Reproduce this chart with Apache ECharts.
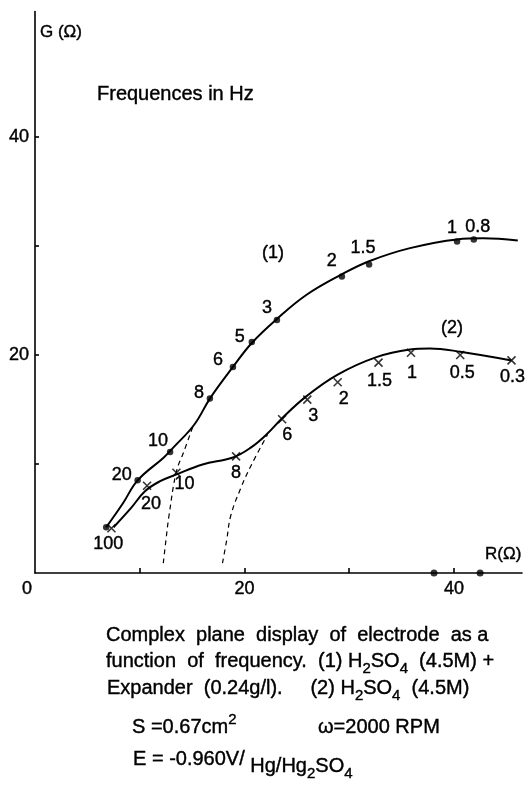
<!DOCTYPE html>
<html><head><meta charset="utf-8">
<script src="https://cdn.jsdelivr.net/npm/echarts@6/dist/echarts.min.js"></script>
<style>html,body{margin:0;padding:0;background:#fff}#c{width:528px;height:785px}</style>
</head><body><div id="c"></div>
<script>
// ---------- data ----------
const xTickValues = [10, 20, 30, 40];
const xLabelValues = [0, 20, 40];
const yTickValues = [10, 20, 30, 40];
const yLabelValues = [20, 40];

// curve (1): measured points [R, G] and their frequencies (Hz)
const freq1 = ['100', '20', '10', '8', '6', '5', '3', '2', '1.5', '1', '0.8'];
const pts1 = [[6.8, 4.2], [9.8, 8.5], [12.9, 11.1], [16.7, 16.0], [18.9, 18.9], [20.7, 21.2],
              [23.1, 23.2], [29.3, 27.2], [31.9, 28.3], [40.3, 30.4], [41.9, 30.6]];
// curve (2): measured points
const freq2 = ['100', '20', '10', '8', '6', '3', '2', '1.5', '1', '0.5', '0.3'];
const pts2 = [[7.3, 4.1], [10.7, 8.0], [13.5, 9.2], [19.2, 10.7], [23.6, 14.1], [26.0, 15.9],
              [28.9, 17.5], [32.8, 19.3], [35.9, 20.2], [40.6, 20.0], [45.5, 19.5]];
// traced fitted curves
const curve1 = [[6.8, 4.2], [8.4, 6.4], [9.8, 8.5], [12.3, 10.6], [13.2, 11.5], [15.2, 13.6],
                [16.7, 16.0], [18.9, 18.9], [20.7, 21.1], [23.1, 23.3], [25.9, 25.5],
                [29.3, 27.4], [31.9, 28.6], [35.8, 29.8], [40.3, 30.6], [42.8, 30.7], [46.1, 30.5]];
const curve2 = [[7.5, 4.2], [9.2, 6.0], [10.5, 7.5], [11.9, 8.4], [13.4, 9.0], [16.0, 9.95],
                [18.9, 10.6], [20.6, 11.5], [22.1, 12.7], [23.6, 14.2], [25.9, 16.2], [28.9, 18.2],
                [32.6, 19.8], [35.8, 20.5], [37.7, 20.6], [40.6, 20.3], [45.5, 19.5]];
// dashed extrapolations to the real axis
const dashed1 = [[12.25, 0.9], [12.5, 3.0], [12.8, 5.3], [13.5, 9.3], [14.2, 11.1], [15.1, 13.5]];
const dashed2 = [[17.9, 0.9], [18.3, 3.0], [18.7, 5.3], [19.7, 7.9], [20.6, 9.8], [22.2, 12.7]];
// intercepts on the R axis
const axisDots = [[38.1, 0], [42.5, 0]];

// ---------- style / layout ----------
const FF = '"Liberation Sans", Arial, sans-serif';
const INK = '#000000';
// label centre offsets (px) relative to each marker; null = no label
const labelOffsets1 = [[2, 17], [-16, -5], [-12, -11], [-11, -6], [-15, -7], [-12, -5], [-10, -12],
                       [-10, -15], [-6, -16], [-5, -14], [4, -12]];
const labelOffsets2 = [null, [4, 18], [8, 11], [0, 17], [5, 16], [6, 16], [6, 17], [1, 18], [1, 20],
                       [2, 18], [1, 17]];

const LBL = { color: INK, opacity: 1, fontSize: 18, fontFamily: FF, textBorderColor: INK, textBorderWidth: 0.4 };
function markData(pts, names, offs) {
  return pts.map((p, i) => ({
    value: p,
    label: offs[i] ? Object.assign({ show: true, formatter: names[i], offset: offs[i], position: 'inside' }, LBL)
                   : { show: false }
  }));
}

const cv = document.createElement('canvas').getContext('2d');
function measure(t, size) { cv.font = size + 'px ' + FF; return cv.measureText(t).width; }
const KINDS = {
  n: { size: 20, dy: 0 }, sub: { size: 15, dy: 8 }, sup: { size: 15, dy: -7 },
  low: { size: 20, dy: 7 }, lowsub: { size: 15, dy: 15 }
};
function txt(x, y, t, size, align) {
  return { type: 'text', x, y, silent: true,
    style: { text: t, font: size + 'px ' + FF, fill: INK, align: align || 'left', verticalAlign: 'middle',
             textAlign: align || 'left', textVerticalAlign: 'middle', stroke: INK, lineWidth: 0.4 } };
}
// segs: [text, kind]
function captionLine(x, y, segs) {
  const out = [];
  let cx = x;
  segs.forEach(([t, k]) => {
    const s = KINDS[k];
    out.push(txt(cx, y + s.dy, t, s.size));
    cx += measure(t, s.size);
  });
  return out;
}

const graphics = [].concat(
  [txt(97, 94, 'Frequences in Hz', 20), txt(273, 253, '(1)', 18, 'center'), txt(452, 328, '(2)', 18, 'center')],
  captionLine(106, 635, [['Complex  plane  display  of  electrode  as a', 'n']]),
  captionLine(106, 661, [['function  of  frequency.  (1) H', 'n'], ['2', 'sub'], ['SO', 'n'], ['4', 'sub'], ['  (4.5M) +', 'n']]),
  captionLine(107, 688, [['Expander  (0.24g/l).     (2) H', 'n'], ['2', 'sub'], ['SO', 'n'], ['4', 'sub'], ['  (4.5M)', 'n']]),
  captionLine(132, 727, [['S =0.67cm', 'n'], ['2', 'sup']]),
  captionLine(318, 727, [['ω=2000 RPM', 'n']]),
  captionLine(133, 759, [['E = -0.960V/ ', 'n'], ['Hg/Hg', 'low'], ['2', 'lowsub'], ['SO', 'low'], ['4', 'lowsub']])
);

const axisCommon = {
  type: 'value', min: 0, interval: 10,
  axisLine: { show: true, onZero: false, lineStyle: { color: INK, width: 1.6 } },
  splitLine: { show: false }
};

const chart = echarts.init(document.getElementById('c'), null, { renderer: 'canvas' });
chart.setOption({
  animation: false,
  backgroundColor: '#fff',
  textStyle: { color: INK, fontFamily: FF },
  grid: { left: 35, top: 11.6, width: 487, height: 561.4, containLabel: false },
  xAxis: Object.assign({}, axisCommon, {
    max: 46.5,
    axisTick: { show: true, inside: true, length: 5, customValues: xTickValues, lineStyle: { color: INK, width: 1.6 } },
    axisLabel: Object.assign({ customValues: xLabelValues, margin: 7,
      formatter: v => v === 0 ? '{o|0}' : String(v),
      rich: { o: Object.assign({ padding: [0, 16, 8, 0] }, LBL) } }, LBL),
    name: 'R(Ω)', nameLocation: 'end', nameGap: -37,
    nameTextStyle: Object.assign({ align: 'left', verticalAlign: 'bottom', padding: [0, 0, 10, 0] }, LBL, { fontSize: 17 })
  }),
  yAxis: Object.assign({}, axisCommon, {
    max: 51.5,
    axisTick: { show: true, inside: true, length: 4, customValues: yTickValues, lineStyle: { color: INK, width: 1.6 } },
    axisLabel: Object.assign({ customValues: yLabelValues, margin: 6 }, LBL),
    name: 'G (Ω)', nameLocation: 'end', nameGap: -12,
    nameTextStyle: Object.assign({ align: 'left', verticalAlign: 'top', padding: [0, 0, 0, 5] }, LBL, { fontSize: 17 })
  }),
  series: [
    { type: 'line', data: curve1, smooth: 0.4, showSymbol: false, silent: true,
      lineStyle: { color: INK, width: 2 } },
    { type: 'line', data: curve2, smooth: 0.4, showSymbol: false, silent: true,
      lineStyle: { color: INK, width: 2 } },
    { type: 'line', data: dashed1, smooth: 0.4, showSymbol: false, silent: true,
      lineStyle: { color: INK, width: 1.2, type: [5, 4] } },
    { type: 'line', data: dashed2, smooth: 0.4, showSymbol: false, silent: true,
      lineStyle: { color: INK, width: 1.2, type: [5, 4] } },
    { type: 'scatter', data: markData(pts1, freq1, labelOffsets1), symbol: 'circle', symbolSize: 6.5,
      itemStyle: { color: INK }, z: 5, label: Object.assign({ position: 'inside' }, LBL) },
    { type: 'scatter', data: markData(pts2, freq2, labelOffsets2), symbol: 'path://M0,0L10,10M10,0L0,10',
      symbolSize: 8, itemStyle: { color: 'rgba(0,0,0,0)', borderColor: INK, borderWidth: 1.6 }, z: 5,
      label: Object.assign({ position: 'inside' }, LBL) },
    { type: 'scatter', data: axisDots, symbol: 'circle', symbolSize: 7, itemStyle: { color: INK }, z: 5 }
  ],
  graphic: graphics
});
</script></body></html>
